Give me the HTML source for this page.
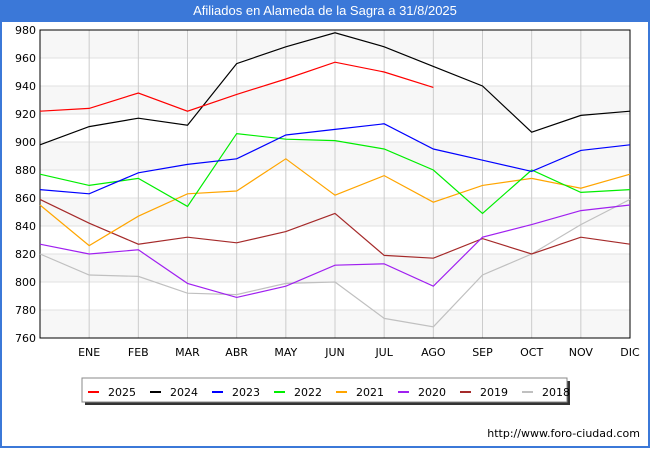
<!DOCTYPE html>
<html><head><meta charset="utf-8"><style>
body{margin:0;width:650px;height:450px;overflow:hidden;font-family:"Liberation Sans","DejaVu Sans",sans-serif;}
#wrap{position:relative;width:646px;height:446px;border:2px solid #3b78d8;border-top:none;background:#fff;}
#title{height:22px;background:#3b78d8;color:#fff;font-size:13px;text-align:center;line-height:22px;}
svg text{font-family:"DejaVu Sans","Liberation Sans",sans-serif;font-size:11px;}
</style></head><body>
<div id="wrap">
<div id="title">Afiliados en Alameda de la Sagra a 31/8/2025</div>
<svg id="chart" width="650" height="450" style="position:absolute;left:-2px;top:0"></svg>
</div>
<script>
const months=["","ENE","FEB","MAR","ABR","MAY","JUN","JUL","AGO","SEP","OCT","NOV","DIC"];
const yTicks=[760,780,800,820,840,860,880,900,920,940,960,980];
const seriesNames=["2025","2024","2023","2022","2021","2020","2019","2018"];
const seriesColors=["#ff0000","#000000","#0000ff","#00ee00","#ffa500","#a020f0","#a52a2a","#c0c0c0"];
const s2025=[922,924,935,922,934,945,957,950,939];
const s2024=[898,911,917,912,956,968,978,968,954,940,907,919,922];
const s2023=[866,863,878,884,888,905,909,913,895,887,879,894,898];
const s2022=[877,869,874,854,906,902,901,895,880,849,880,864,866];
const s2021=[855,826,847,863,865,888,862,876,857,869,874,867,877];
const s2020=[827,820,823,799,789,797,812,813,797,832,841,851,855];
const s2019=[859,842,827,832,828,836,849,819,817,831,820,832,827];
const s2018=[820,805,804,792,791,799,800,774,768,805,820,841,859];
const allSeries=[s2025,s2024,s2023,s2022,s2021,s2020,s2019,s2018];
const NS="http://www.w3.org/2000/svg";
const svg=document.getElementById('chart');
const L=40,R=630,T=30,B=338,yMin=760,yMax=980;
const x=i=>L+i*(R-L)/12;
const y=v=>B-(v-yMin)/(yMax-yMin)*(B-T);
function mk(t,a,p){const e=document.createElementNS(NS,t);for(const k in a)e.setAttribute(k,a[k]);(p||svg).appendChild(e);return e;}
for(let i=0;i<yTicks.length-1;i++){
  if(i%2==0){const r=mk('rect',{x:L,y:y(yTicks[i+1]),width:R-L,height:y(yTicks[i])-y(yTicks[i+1]),fill:'#f7f7f7'});
  }
}
yTicks.forEach(v=>{
  const g=mk('line',{x1:L,x2:R,y1:y(v),y2:y(v),stroke:'#e2e2e2'});
  
  const t=mk('text',{x:L-4,y:y(v)+4,'text-anchor':'end',fill:'#000'});t.textContent=v;
  
});
months.forEach((m,i)=>{
  if(i>0){const g=mk('line',{x1:x(i),x2:x(i),y1:T,y2:B,stroke:'#cccccc'});
  }
  if(m){const t=mk('text',{x:x(i),y:B+18,'text-anchor':'middle',fill:'#000'});t.textContent=m;
  }
});
const ax=mk('rect',{x:L,y:T,width:R-L,height:B-T,fill:'none',stroke:'#000'});

for(let s=allSeries.length-1;s>=0;s--){
  const pts=allSeries[s].map((v,i)=>x(i)+','+y(v)).join(' ');
  const p=mk('polyline',{points:pts,fill:'none',stroke:seriesColors[s],'stroke-width':1.2});
  
}
// legend
const sh=mk('rect',{x:85,y:381,width:485,height:24,fill:'#333'});

const lg=mk('rect',{x:82,y:378,width:485,height:24,fill:'#fff',stroke:'#888'});

seriesNames.forEach((n,i)=>{
  const lx=88+i*62;
  const l=mk('line',{x1:lx,x2:lx+11,y1:392,y2:392,stroke:seriesColors[i],'stroke-width':2});
  
  const t=mk('text',{x:lx+20,y:396,fill:'#000'});t.textContent=n;
  
});
const u=mk('text',{x:640,y:437,'text-anchor':'end',fill:'#000','font-size':'10'});
u.textContent='http://www.foro-ciudad.com';

</script>
</body></html>
